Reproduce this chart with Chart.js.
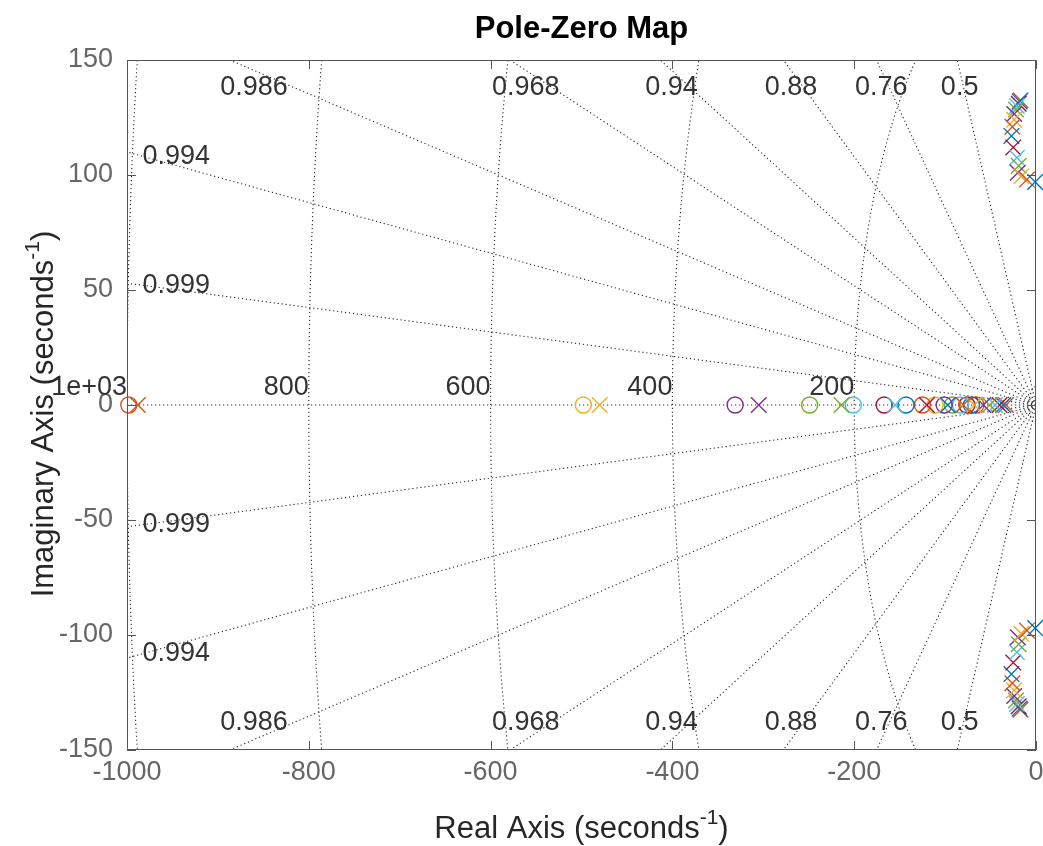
<!DOCTYPE html>
<html>
<head>
<meta charset="utf-8">
<script src="https://cdn.jsdelivr.net/npm/chart.js@4.4.1/dist/chart.umd.min.js"></script>
<style>
  html, body { margin: 0; padding: 0; background: #fff; }
  canvas { display: block; }
</style>
</head>
<body>
<canvas id="pzChart" width="1043" height="846"></canvas>
<script>
// ============================================================================
// 데이터 (pole-zero map, 16 systems)
// ============================================================================
// real zero / real pole of each system (system 0 has none)
const zeroRe = [null, -998, -498, -331, -249, -201, -167, -143, -125, -111, -101, -92, -83, -76, -71, -66];
const poleRe = [null, -988, -480, -305, -214, -155, -120, -97, -80, -68, -58, -51, -45, -40, -36, -33];
// complex pole pair (re, ±im) of each system
const pairRe = [-1, -10, -16, -20, -19, -21, -25, -27, -26, -24, -24, -22, -21, -19, -18, -17];
const pairIm = [97, 98, 99.5, 101, 104, 107.5, 112, 117, 121, 124, 126.5, 128.5, 130, 131, 132, 132.5];

// sgrid
const dampingValues = [0.5, 0.76, 0.88, 0.94, 0.968, 0.986, 0.994, 0.9986];
const dampingLabels = ['0.5', '0.76', '0.88', '0.94', '0.968', '0.986', '0.994', '0.999'];
const freqValues = [8, 200, 400, 600, 800, 1000];
const freqLabels = ['', '200', '400', '600', '800', '1e+03'];

// axes
const xTicks = [-1000, -800, -600, -400, -200, 0];
const yTicks = [-150, -100, -50, 0, 50, 100, 150];

const colorOrder = ['#0072BD', '#D95319', '#EDB120', '#7E2F8E', '#77AC30', '#4DBEEE', '#A2142F'];
const FONT = '"Liberation Sans", Arial, Helvetica, sans-serif';

// 데이터셋 생성
function createPzDatasets(){
    const sets = [];
    for (let s = 0; s < pairRe.length; s++) {
        const color = colorOrder[s % colorOrder.length];
        const poles = [{x: pairRe[s], y: pairIm[s]}, {x: pairRe[s], y: -pairIm[s]}];
        if (poleRe[s] !== null) poles.unshift({x: poleRe[s], y: 0});
        sets.push({
            data: poles,
            pointStyle: 'crossRot',
            radius: 11,
            borderWidth: 1.4,
            borderColor: color,
            backgroundColor: 'transparent',
            clip: 14
        });
        if (zeroRe[s] !== null) {
            sets.push({
                data: [{x: zeroRe[s], y: 0}],
                pointStyle: 'circle',
                radius: 8,
                borderWidth: 1.4,
                borderColor: color,
                backgroundColor: 'transparent',
                clip: 14
            });
        }
    }
    return sets;
}

// sgrid + 박스 + 라벨 그리기
const pzGrid = {
    id: 'pzGrid',
    beforeDatasetsDraw(chart){
        const {ctx, chartArea: a, scales: {x, y}} = chart;
        const ox = x.getPixelForValue(0), oy = y.getPixelForValue(0);

        ctx.save();
        ctx.beginPath();
        ctx.rect(a.left, a.top, a.right - a.left, a.bottom - a.top);
        ctx.clip();
        ctx.strokeStyle = '#2a2a2a';
        ctx.lineWidth = 1.1;
        ctx.setLineDash([1.2, 2.8]);

        // 고유주파수 원
        freqValues.forEach(w => {
            const rx = ox - x.getPixelForValue(-w);
            const ry = oy - y.getPixelForValue(w);
            ctx.beginPath();
            ctx.ellipse(ox, oy, rx, ry, 0, Math.PI / 2, Math.PI * 3 / 2);
            ctx.stroke();
        });

        // 감쇠비 직선
        dampingValues.forEach(z => {
            const m = Math.sqrt(1 - z * z) / z;
            [1, -1].forEach(sg => {
                ctx.beginPath();
                ctx.moveTo(ox, oy);
                ctx.lineTo(x.getPixelForValue(-3000), y.getPixelForValue(sg * 3000 * m));
                ctx.stroke();
            });
        });

        // 실수축
        ctx.beginPath();
        ctx.moveTo(a.left, oy);
        ctx.lineTo(a.right, oy);
        ctx.stroke();
        ctx.restore();

        // 라벨
        ctx.save();
        ctx.fillStyle = '#333';
        ctx.font = '27px ' + FONT;
        const yMax = y.max, xMin = x.min;
        dampingValues.forEach((z, i) => {
            const m = Math.sqrt(1 - z * z) / z;
            [1, -1].forEach(sg => {
                if (-yMax / m > xMin) {
                    ctx.textAlign = 'center';
                    ctx.textBaseline = 'middle';
                    ctx.fillText(dampingLabels[i], x.getPixelForValue(-0.97 * yMax / m), y.getPixelForValue(sg * 0.92 * yMax));
                } else {
                    const lx = xMin * 0.983;
                    ctx.textAlign = 'left';
                    ctx.textBaseline = 'middle';
                    ctx.fillText(dampingLabels[i], x.getPixelForValue(lx), y.getPixelForValue(-sg * lx * m));
                }
            });
        });
        ctx.textAlign = 'right';
        ctx.textBaseline = 'alphabetic';
        freqValues.forEach((w, i) => {
            if (freqLabels[i]) ctx.fillText(freqLabels[i], x.getPixelForValue(-w), oy - 10);
        });
        ctx.restore();
    },
    afterDraw(chart){
        const {ctx, chartArea: a, scales: {x, y}} = chart;
        ctx.save();
        ctx.strokeStyle = '#555';
        ctx.lineWidth = 1;
        ctx.setLineDash([]);
        ctx.strokeRect(a.left + 0.5, a.top + 0.5, a.right - a.left - 1, a.bottom - a.top - 1);
        const tl = 9;
        ctx.beginPath();
        xTicks.forEach(v => {
            const px = Math.round(x.getPixelForValue(v)) + 0.5;
            ctx.moveTo(px, a.bottom); ctx.lineTo(px, a.bottom - tl);
            ctx.moveTo(px, a.top); ctx.lineTo(px, a.top + tl);
        });
        yTicks.forEach(v => {
            const py = Math.round(y.getPixelForValue(v)) + 0.5;
            ctx.moveTo(a.left, py); ctx.lineTo(a.left + tl, py);
            ctx.moveTo(a.right, py); ctx.lineTo(a.right - tl, py);
        });
        ctx.stroke();

        // x 눈금 라벨
        ctx.fillStyle = '#666';
        ctx.font = '27px ' + FONT;
        ctx.textAlign = 'center';
        ctx.textBaseline = 'top';
        xTicks.forEach(v => ctx.fillText(String(v), x.getPixelForValue(v), a.bottom + 9));

        // 제목
        ctx.fillStyle = '#000';
        ctx.font = 'bold 31px ' + FONT;
        ctx.textAlign = 'center';
        ctx.textBaseline = 'middle';
        ctx.fillText('Pole-Zero Map', (a.left + a.right) / 2, 29);

        // 축 제목 (위첨자 -1)
        function axisTitle(cx, cy, rot, main){
            ctx.save();
            ctx.translate(cx, cy);
            ctx.rotate(rot);
            ctx.fillStyle = '#262626';
            ctx.textAlign = 'left';
            ctx.textBaseline = 'middle';
            const big = '31px ' + FONT, small = '21px ' + FONT;
            ctx.font = big;  const w1 = ctx.measureText(main).width;
            const w3 = ctx.measureText(')').width;
            ctx.font = small; const w2 = ctx.measureText('-1').width;
            let sx = -(w1 + w2 + w3) / 2;
            ctx.font = big;  ctx.fillText(main, sx, 0); sx += w1;
            ctx.font = small; ctx.fillText('-1', sx, -11); sx += w2;
            ctx.font = big;  ctx.fillText(')', sx, 0);
            ctx.restore();
        }
        axisTitle((a.left + a.right) / 2, 829, 0, 'Real Axis (seconds');
        axisTitle(44, (a.top + a.bottom) / 2 + 9, -Math.PI / 2, 'Imaginary Axis (seconds');
        ctx.restore();
    }
};

// 차트 생성
function createPzChart(chartid){
    const ctx = document.getElementById(chartid);
    return new Chart(ctx, {
        type: 'scatter',
        data: { datasets: createPzDatasets() },
        options: {
            responsive: false,
            animation: false,
            devicePixelRatio: 1,
            layout: { autoPadding: false, padding: { top: 60, right: 7, left: 0, bottom: 0 } },
            plugins: { legend: { display: false }, tooltip: { enabled: false } },
            scales: {
                x: {
                    type: 'linear', min: -1000, max: 0,
                    afterBuildTicks: s => { s.ticks = xTicks.map(v => ({ value: v })); },
                    afterFit: s => { s.height = 96; },
                    grid: { display: false, drawTicks: false },
                    border: { display: false },
                    ticks: { display: false }
                },
                y: {
                    type: 'linear', min: -150, max: 150,
                    afterBuildTicks: s => { s.ticks = yTicks.map(v => ({ value: v })); },
                    afterFit: s => { s.width = 127; },
                    grid: { display: false, drawTicks: false },
                    border: { display: false },
                    ticks: { color: '#666', padding: 14, font: { size: 27, family: FONT }, callback: v => String(v) }
                }
            }
        },
        plugins: [pzGrid]
    });
}

createPzChart('pzChart');
</script>
</body>
</html>
